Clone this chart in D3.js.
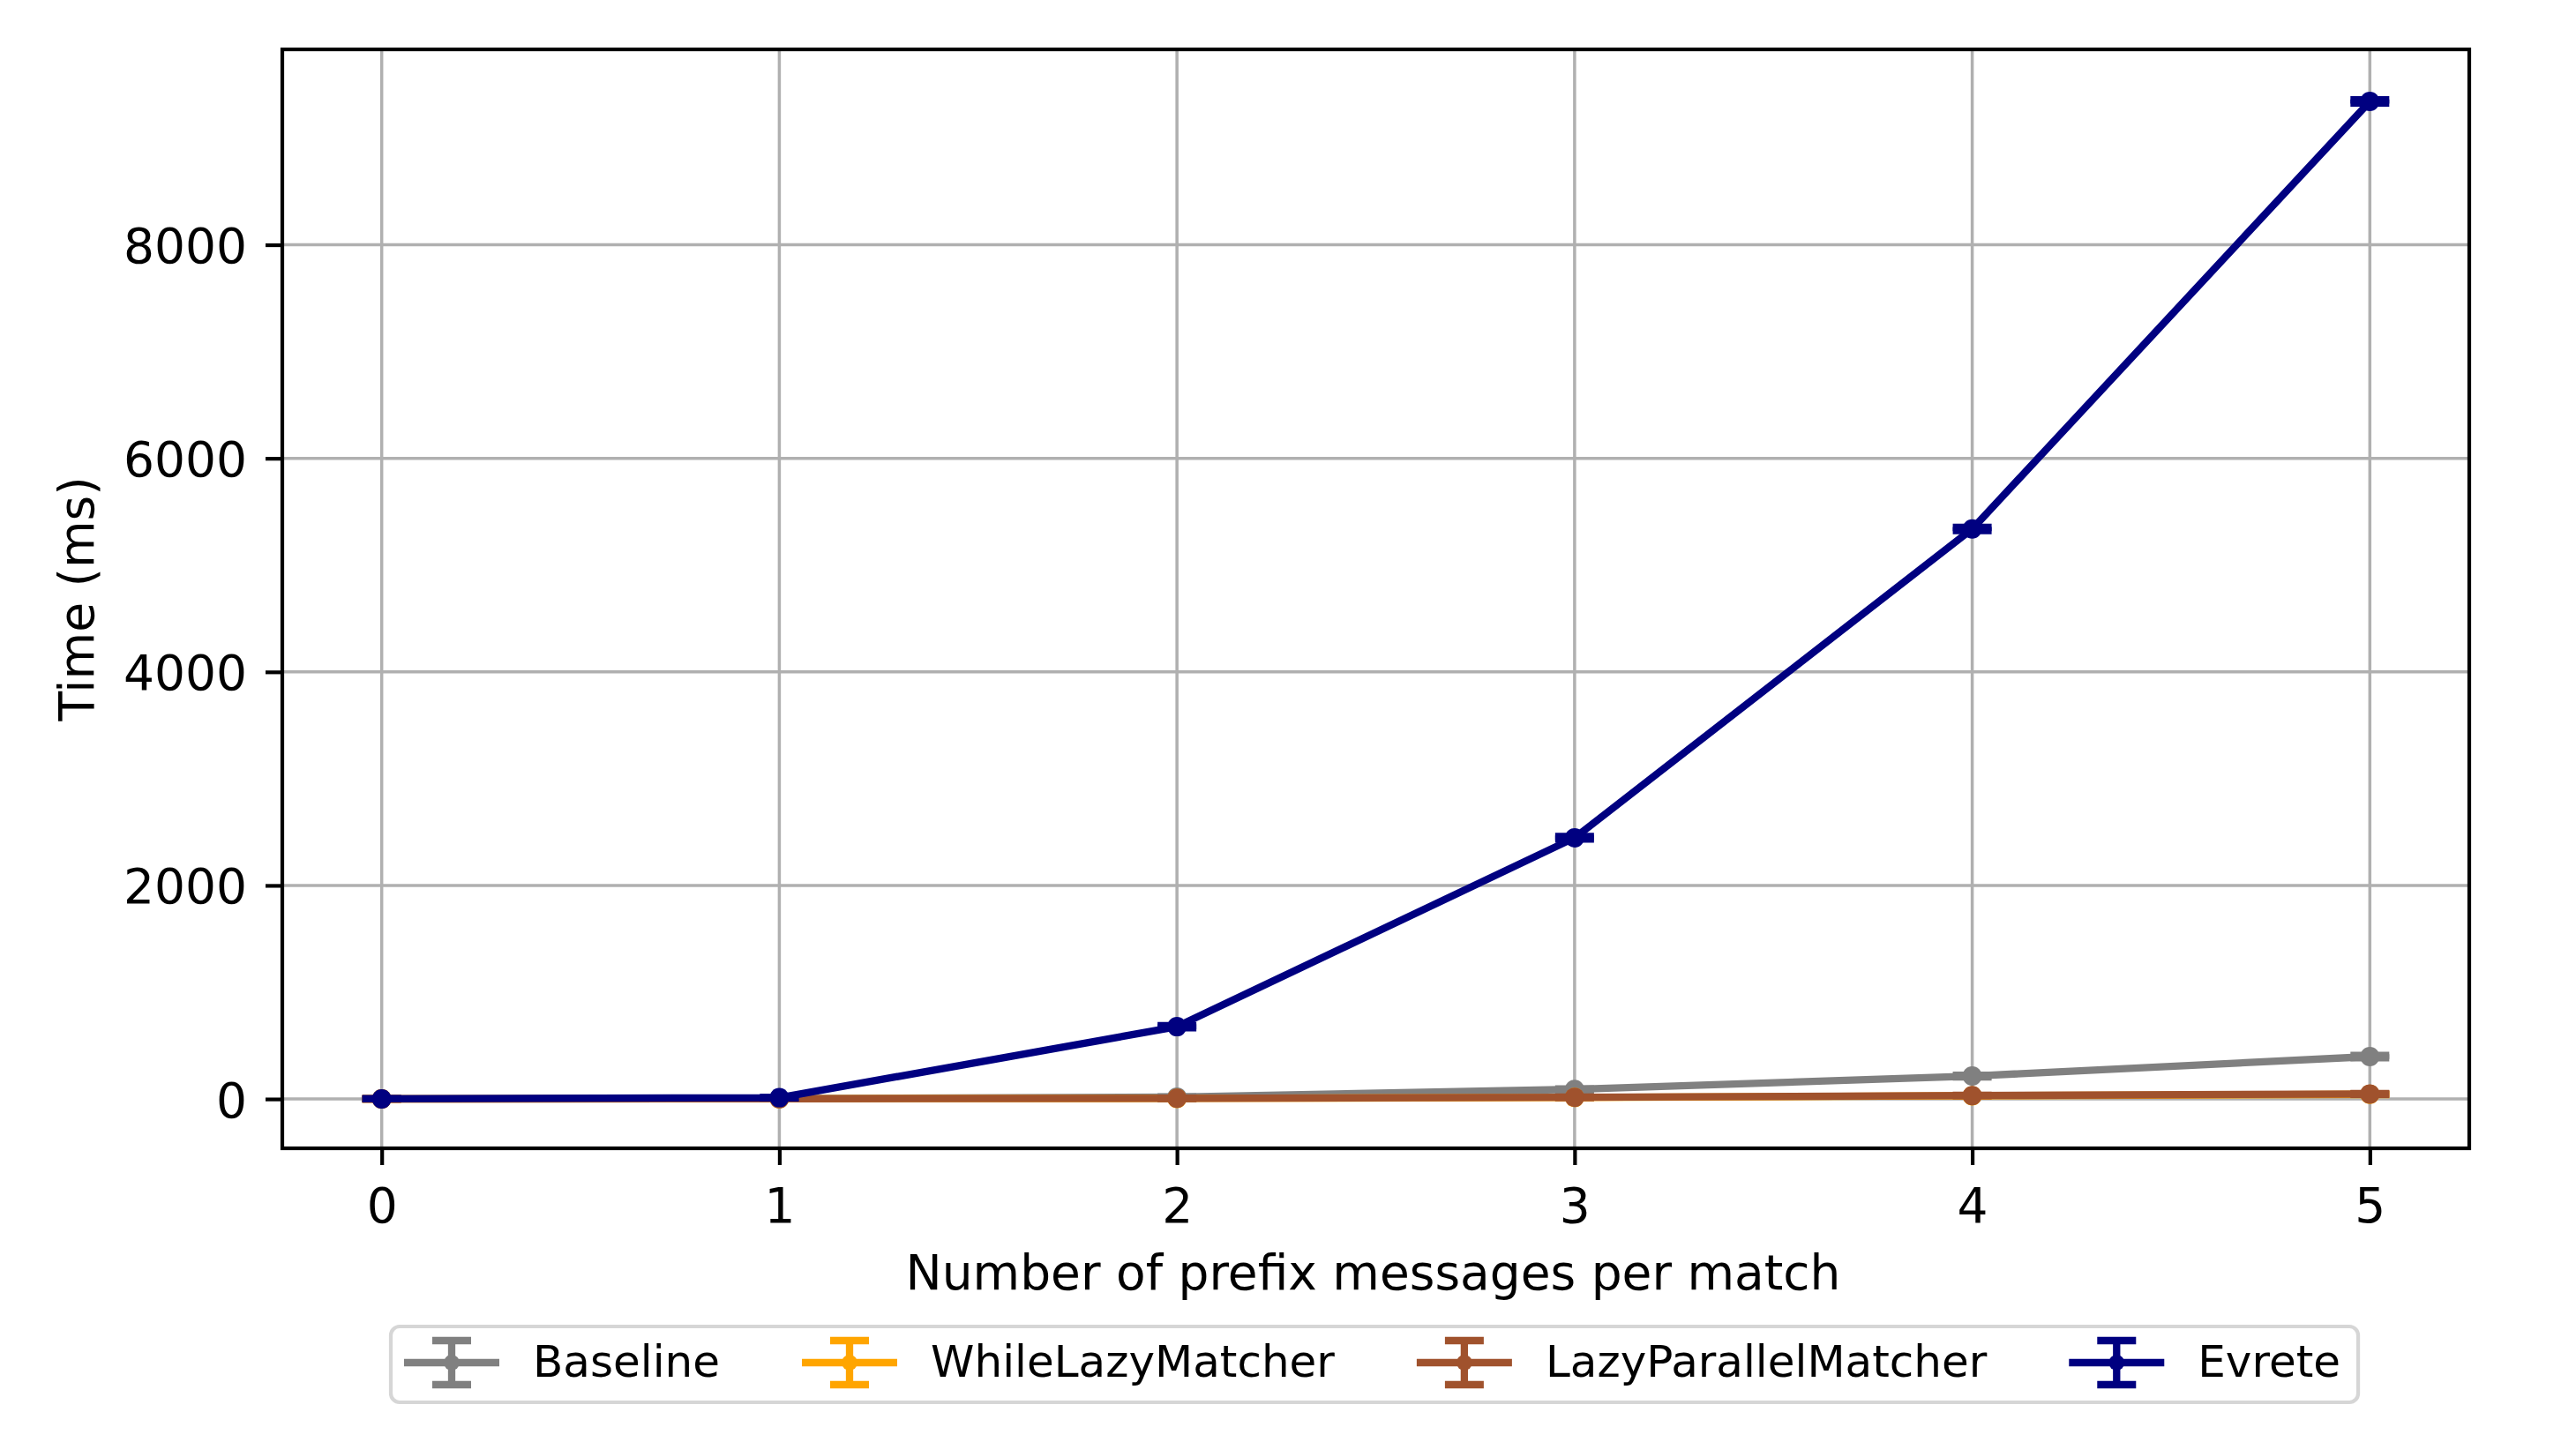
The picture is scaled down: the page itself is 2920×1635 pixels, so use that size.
<!DOCTYPE html>
<html>
<head>
<meta charset="utf-8">
<script src="https://cdn.jsdelivr.net/npm/d3@7"></script>
<style>
  body { margin: 0; background: #fff; }
  svg text { font-family: "DejaVu Sans", sans-serif; fill: #000; }
</style>
</head>
<body>
<svg id="chart"></svg>
<script>
const prefixCounts = [0, 1, 2, 3, 4, 5];
const xTicks = [0, 1, 2, 3, 4, 5];
const yTicks = [0, 2000, 4000, 6000, 8000];

const seriesNames = ["Baseline", "WhileLazyMatcher", "LazyParallelMatcher", "Evrete"];
const seriesColors = ["#808080", "#ffa500", "#a0522d", "#000080"];

// mean time (ms) per prefix count
const baselineTimes = [1, 3, 18, 90, 215, 397];
const whileLazyTimes = [0.5, 2, 5, 14, 30, 44];
const lazyParallelTimes = [0.5, 2, 6, 16, 32, 47];
const evreteTimes = [1, 12, 677, 2446, 5338, 9342];

// std error (ms)
const baselineErr = [0.1, 0.3, 2, 5, 8, 12];
const whileLazyErr = [0.1, 0.2, 0.5, 1, 2, 3];
const lazyParallelErr = [0.1, 0.2, 0.5, 1, 2, 3];
const evreteErr = [0.2, 1, 10, 12, 15, 15];

const allTimes = [baselineTimes, whileLazyTimes, lazyParallelTimes, evreteTimes];
const allErr = [baselineErr, whileLazyErr, lazyParallelErr, evreteErr];

const W = 2920, H = 1635;
const m = { left: 320, right: 2799, top: 56, bottom: 1302 };
const lw = 8.3;        // line width
const capHalf = 22;    // half cap width
const dotR = 11;

const svg = d3.select("#chart")
  .attr("width", W)
  .attr("height", H)
  .attr("viewBox", "0 0 " + W + " " + H);

svg.append("rect").attr("width", W).attr("height", H).attr("fill", "#fff");

const x = d3.scaleLinear().domain([-0.25, 5.25]).range([m.left, m.right]);
const y = d3.scaleLinear().domain([-462, 9830]).range([m.bottom, m.top]);

// grid
const grid = svg.append("g").attr("class", "grid");
grid.selectAll("line.gx")
  .data(xTicks)
  .enter()
  .append("line")
  .attr("x1", d => x(d)).attr("x2", d => x(d))
  .attr("y1", m.top).attr("y2", m.bottom)
  .attr("stroke", "#b0b0b0").attr("stroke-width", 3.5);
grid.selectAll("line.gy")
  .data(yTicks)
  .enter()
  .append("line")
  .attr("x1", m.left).attr("x2", m.right)
  .attr("y1", d => y(d)).attr("y2", d => y(d))
  .attr("stroke", "#b0b0b0").attr("stroke-width", 3.5);

// axes
const xAxis = svg.append("g")
  .attr("transform", "translate(0," + m.bottom + ")")
  .call(d3.axisBottom(x).tickValues(xTicks).tickSize(19).tickPadding(0).tickFormat(d3.format("d")));
const yAxis = svg.append("g")
  .attr("transform", "translate(" + m.left + ",0)")
  .call(d3.axisLeft(y).tickValues(yTicks).tickSize(19).tickPadding(0).tickFormat(d3.format("d")));

[xAxis, yAxis].forEach(a => {
  a.select(".domain").remove();
  a.selectAll(".tick line").attr("stroke", "#000").attr("stroke-width", 4.2);
  a.selectAll(".tick text").attr("font-size", 55).attr("font-family", "DejaVu Sans");
});
xAxis.selectAll(".tick text").attr("dy", null).attr("y", 84);
yAxis.selectAll(".tick text").attr("dy", null).attr("x", -40).attr("y", 20);

// series
seriesNames.forEach((name, si) => {
  const color = seriesColors[si];
  const pts = prefixCounts.map((c, i) => ({ c: c, v: allTimes[si][i], e: allErr[si][i] }));
  const g = svg.append("g").attr("class", "series");

  g.selectAll("line.err")
    .data(pts)
    .enter()
    .append("line")
    .attr("x1", d => x(d.c)).attr("x2", d => x(d.c))
    .attr("y1", d => y(d.v - d.e)).attr("y2", d => y(d.v + d.e))
    .attr("stroke", color).attr("stroke-width", lw);

  [-1, 1].forEach(sign => {
    g.selectAll("line.cap" + sign)
      .data(pts)
      .enter()
      .append("line")
      .attr("x1", d => x(d.c) - capHalf).attr("x2", d => x(d.c) + capHalf)
      .attr("y1", d => y(d.v + sign * d.e)).attr("y2", d => y(d.v + sign * d.e))
      .attr("stroke", color).attr("stroke-width", lw);
  });

  g.append("path")
    .datum(pts)
    .attr("fill", "none")
    .attr("stroke", color)
    .attr("stroke-width", lw)
    .attr("stroke-linejoin", "round")
    .attr("d", d3.line().x(d => x(d.c)).y(d => y(d.v)));

  g.selectAll("circle")
    .data(pts)
    .enter()
    .append("circle")
    .attr("cx", d => x(d.c)).attr("cy", d => y(d.v))
    .attr("r", dotR)
    .attr("fill", color);
});

// frame
svg.append("rect")
  .attr("x", m.left).attr("y", m.top)
  .attr("width", m.right - m.left).attr("height", m.bottom - m.top)
  .attr("fill", "none").attr("stroke", "#000").attr("stroke-width", 4.2);

// axis labels
svg.append("text")
  .attr("x", (m.left + m.right) / 2 - 3).attr("y", 1462)
  .attr("text-anchor", "middle").attr("font-size", 55)
  .text("Number of prefix messages per match");
svg.append("text")
  .attr("transform", "translate(106," + (m.top + m.bottom) / 2 + ") rotate(-90)")
  .attr("text-anchor", "middle").attr("font-size", 55)
  .text("Time (ms)");

// legend
const legY = 1545;
const legend = svg.append("g").attr("class", "legend");
const frame = legend.append("rect")
  .attr("x", 443).attr("y", 1504).attr("height", 86)
  .attr("rx", 10).attr("ry", 10)
  .attr("fill", "#fff").attr("stroke", "#d6d6d6").attr("stroke-width", 4.2);

let cx = 458;
let lastEnd = 0;
seriesNames.forEach((name, si) => {
  const color = seriesColors[si];
  const item = legend.append("g");
  item.append("line")
    .attr("x1", cx).attr("x2", cx + 108).attr("y1", legY).attr("y2", legY)
    .attr("stroke", color).attr("stroke-width", lw);
  item.append("line")
    .attr("x1", cx + 54).attr("x2", cx + 54).attr("y1", legY - 25).attr("y2", legY + 25)
    .attr("stroke", color).attr("stroke-width", lw);
  [-25, 25].forEach(dy => {
    item.append("line")
      .attr("x1", cx + 54 - capHalf).attr("x2", cx + 54 + capHalf)
      .attr("y1", legY + dy).attr("y2", legY + dy)
      .attr("stroke", color).attr("stroke-width", lw);
  });
  item.append("circle").attr("cx", cx + 54).attr("cy", legY).attr("r", 9).attr("fill", color);
  const t = item.append("text")
    .attr("x", cx + 146).attr("y", 1561)
    .attr("font-size", 50)
    .text(name);
  lastEnd = cx + 146 + t.node().getComputedTextLength();
  cx = lastEnd + 93;
});
frame.attr("width", lastEnd + 20 - 443);
</script>
</body>
</html>
